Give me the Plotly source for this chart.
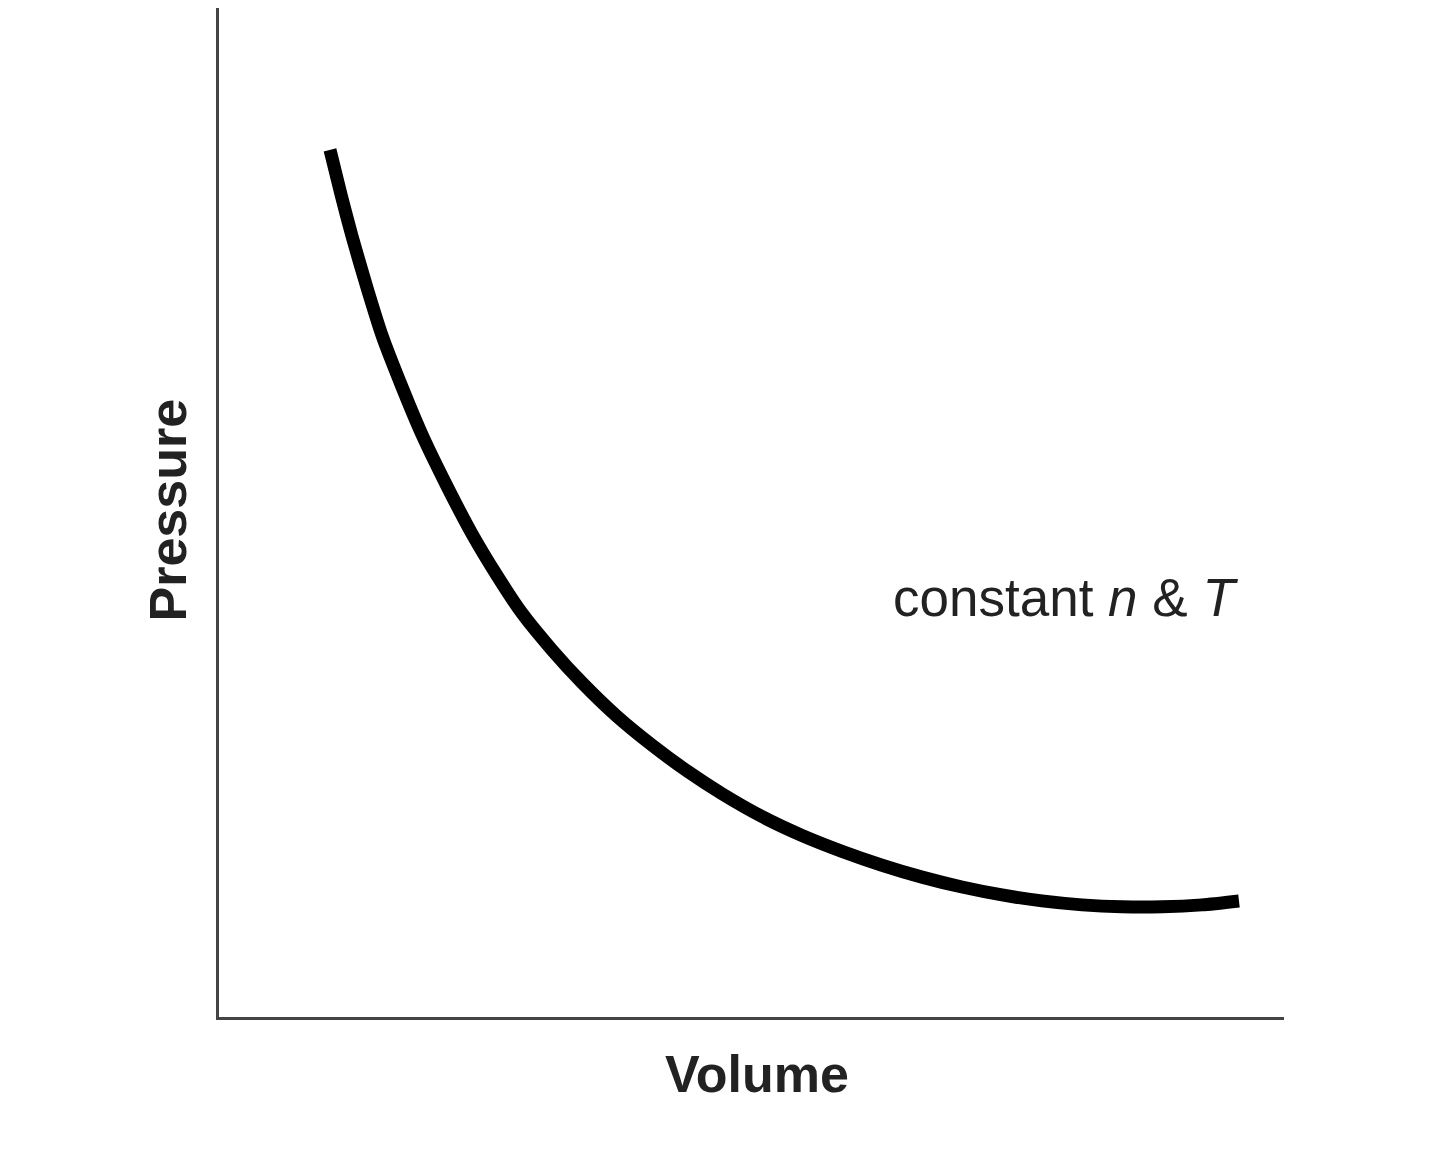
import plotly.graph_objects as go

# Isotherm (arbitrary units)
volume = [111, 122, 133, 148, 163, 183, 203, 228, 253, 278, 303, 333, 363, 398, 433, 468,
          503, 543, 583, 623, 663, 703, 743, 783, 823, 863, 903, 943, 983, 1020]
pressure = [874, 829, 787, 735, 687, 635, 587, 535, 487, 445, 407, 370, 337, 303, 274, 248,
            225, 202, 183, 167, 153, 141, 131, 123, 117, 113, 111, 111, 113, 117]

fig = go.Figure()
fig.add_trace(go.Scatter(
    x=volume, y=pressure, mode="lines",
    line=dict(color="black", width=13, shape="spline", smoothing=0.6),
    showlegend=False, hoverinfo="skip",
))

font = "Liberation Sans, Arial, sans-serif"
fig.add_annotation(x=846, y=423, text="constant <i>n</i> & <i>T</i>", showarrow=False,
                   font=dict(family=font, size=53, color="#222"))
fig.add_annotation(xref="paper", yref="paper", x=0.505, y=-0.087, text="<b>Volume</b>",
                   showarrow=False, font=dict(family=font, size=52, color="#222"))
fig.add_annotation(xref="paper", yref="paper", x=-0.077, y=0.503, text="<b>Pressure</b>",
                   showarrow=False, textangle=-90,
                   font=dict(family=font, size=52, color="#222"))

fig.update_layout(
    width=1440, height=1152,
    margin=dict(l=211, r=164, t=0, b=143),
    plot_bgcolor="white", paper_bgcolor="white",
    xaxis=dict(range=[0, 1065], showgrid=False, zeroline=False, showticklabels=False,
               showline=True, linecolor="#444", linewidth=3, ticks=""),
    yaxis=dict(range=[0, 1017], showgrid=False, zeroline=False, showticklabels=False,
               showline=True, linecolor="#444", linewidth=3, ticks=""),
)

fig.write_html("out.html")
